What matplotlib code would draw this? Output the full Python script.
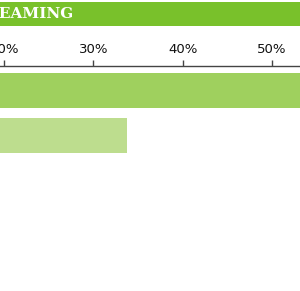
import matplotlib
matplotlib.use("Agg")
import matplotlib.pyplot as plt
from matplotlib.patches import Rectangle

# data (percent)
categories = ["Group A", "Group B"]
values = [58, 33.8]
bar_colors = ["#9fd05e", "#bddd8e"]
ticks = [20, 30, 40, 50]
tick_labels = ["20%", "30%", "40%", "50%"]
title = "STREAMING"

W, H = 300, 291
fig = plt.figure(figsize=(W / 100, H / 100), dpi=100)

# green header band
fig.patches.append(Rectangle((0, 1 - 26 / H), 1, 24 / H, transform=fig.transFigure,
                             facecolor="#79c12b", edgecolor="none", zorder=0))
fig.text(73 / W, 1 - 14.5 / H, title, ha="right", va="center", color="white",
         fontsize=11, fontweight="bold", family="DejaVu Serif")

# axes: top spine at y=66px, spans full width
ax = fig.add_axes([0, 0, 1, 1 - 66 / H])
ax.barh(range(len(values)), values, height=0.78, color=bar_colors)

px_per_pct = (272 - 4) / 30
ax.set_xlim(20 - 4 / px_per_pct, 20 + (W - 4) / px_per_pct)
ax.set_ylim(4.456, -0.544)

ax.xaxis.tick_top()
ax.set_xticks(ticks)
ax.set_xticklabels(tick_labels)
ax.tick_params(axis="x", length=4, width=1, color="#444444", pad=3,
               labelsize=9.5, labelcolor="#111111")
ax.set_yticks([])
for s in ["bottom", "left", "right"]:
    ax.spines[s].set_visible(False)
ax.spines["top"].set_color("#444444")
ax.spines["top"].set_linewidth(1)

fig.savefig("out.png", dpi=100)
